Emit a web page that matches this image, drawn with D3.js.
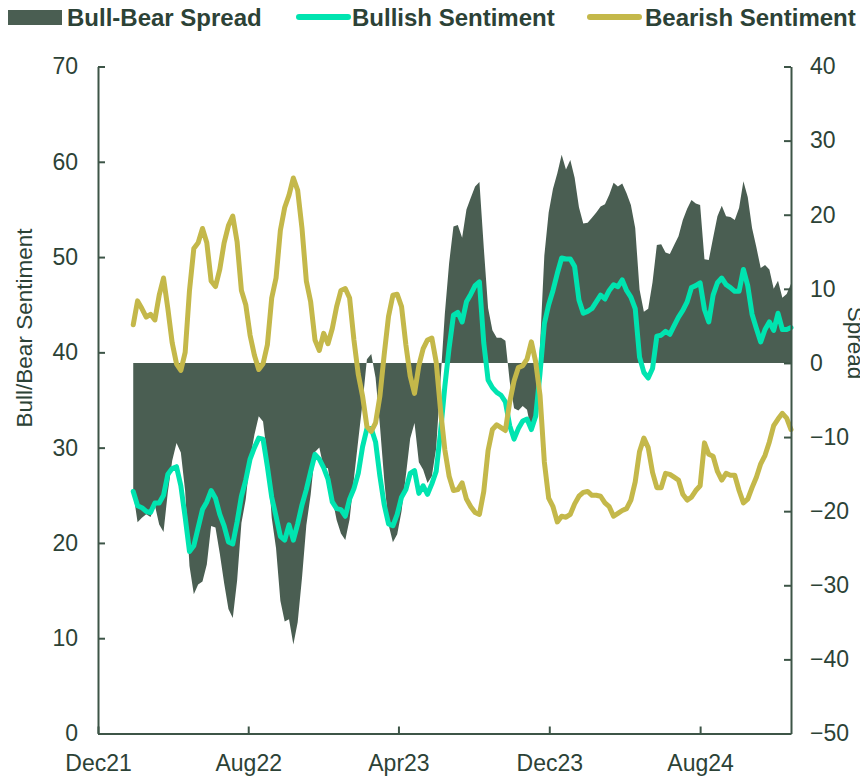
<!DOCTYPE html>
<html><head><meta charset="utf-8">
<script src="https://cdn.jsdelivr.net/npm/d3@7"></script>
<style>body{margin:0;background:#fff;} svg{display:block;font-family:"Liberation Sans",Arial,sans-serif;}</style>
</head><body><svg id="chart" width="860" height="779"></svg>
<script>
// ---- data ----
const firstWeek = "2022-01-27"; // weekly observations (Thursdays)
const xDomain = ["2021-12-01", "2024-12-26"];
const xTickDates = ["2021-12-01", "2022-08-01", "2023-04-01", "2023-12-01", "2024-08-01"];
const xTickLabels = ["Dec21", "Aug22", "Apr23", "Dec23", "Aug24"];
const leftTicks = [0, 10, 20, 30, 40, 50, 60, 70];
const rightTicks = [-50, -40, -30, -20, -10, 0, 10, 20, 30, 40];
const seriesNames = ["Bull-Bear Spread", "Bullish Sentiment", "Bearish Sentiment"];

const bullish = [25.4,23.9,23.7,23.3,23.2,24.2,24.2,25.0,27.2,27.8,28.0,26.0,22.7,19.1,19.7,21.6,23.5,24.3,25.5,24.7,
23.0,21.8,20.1,19.9,22.2,24.9,26.6,28.8,30.0,31.0,30.9,28.0,24.8,22.8,20.7,20.3,21.9,20.3,22.0,24.0,
25.6,27.5,29.3,28.8,27.9,26.7,24.3,23.6,23.5,22.8,24.6,25.7,27.3,30.1,32.0,32.0,30.6,27.0,24.0,22.0,
21.8,23.0,24.8,25.6,27.3,27.6,25.2,26.0,25.1,26.2,27.5,31.6,36.4,40.5,43.9,44.2,43.2,45.3,46.1,47.0,
47.4,41.0,37.1,36.3,35.8,35.5,34.8,32.3,30.9,32.0,32.8,33.0,31.9,33.3,37.8,43.0,45.0,46.5,48.3,49.9,
49.8,49.8,49.0,45.5,44.1,44.3,44.6,45.3,46.0,45.6,46.5,47.1,46.9,47.6,46.5,45.8,44.6,39.5,37.9,37.3,
38.3,41.7,41.8,42.2,41.9,42.8,43.7,44.4,45.3,46.8,47.0,47.3,44.5,43.2,46.0,47.3,47.8,47.1,46.8,46.4,
46.4,48.7,47.0,44.0,42.5,41.1,42.4,43.2,42.3,44.1,42.4,42.4,42.6];

const bearish = [42.9,45.4,44.6,43.7,44.0,43.4,46.0,47.8,44.6,41.0,38.8,38.1,40.0,46.5,50.9,51.5,53.0,51.5,47.5,46.9,
48.7,51.5,53.3,54.3,51.6,46.5,45.0,41.8,39.7,38.2,38.8,40.8,45.7,47.8,52.8,55.2,56.5,58.3,57.0,53.0,
47.5,45.3,41.3,40.2,42.0,40.9,42.5,44.8,46.5,46.7,45.7,41.3,37.7,35.4,32.2,31.7,32.6,35.4,39.8,43.8,
46.0,46.1,44.8,40.8,37.5,35.7,38.6,40.4,41.3,41.5,39.0,34.0,29.8,27.0,25.5,25.6,26.3,24.6,23.8,23.2,
23.0,25.4,29.7,31.9,32.4,32.1,31.8,34.8,37.0,38.4,38.6,39.3,41.1,39.0,35.5,28.5,24.7,23.8,22.2,22.8,
22.7,23.0,24.1,24.9,25.3,25.4,25.0,25.0,24.9,24.2,23.8,22.8,23.1,23.4,23.6,24.5,26.4,29.6,31.0,30.0,
27.4,25.8,25.8,27.3,27.2,26.9,26.6,25.1,24.5,24.8,25.5,26.0,30.5,29.3,29.1,27.5,26.6,27.3,27.1,27.1,
25.5,24.2,24.6,25.8,26.9,28.3,29.2,30.6,32.3,33.0,33.6,33.1,31.9];

const spread = [-17.5,-21.5,-20.9,-20.4,-20.8,-19.2,-21.8,-22.8,-17.4,-13.2,-10.8,-12.1,-17.3,-27.4,-31.2,-29.9,-29.5,-27.2,-22.0,-22.2,
-25.7,-29.7,-33.2,-34.4,-29.4,-21.6,-18.4,-13.0,-9.7,-7.2,-7.9,-12.8,-20.9,-25.0,-32.1,-34.9,-34.6,-38.0,-35.0,-29.0,
-21.9,-17.8,-12.0,-11.4,-14.1,-14.2,-18.2,-21.2,-23.0,-23.9,-21.1,-15.6,-10.4,-5.3,0.5,1.2,-2.0,-8.4,-15.8,-21.8,
-24.2,-23.1,-20.0,-15.2,-10.2,-8.1,-13.4,-14.4,-16.2,-15.3,-11.5,-2.4,6.6,13.5,18.4,18.6,16.9,20.7,22.3,23.8,
24.4,15.6,7.4,4.4,3.4,3.4,3.0,-2.5,-6.1,-6.4,-5.8,-6.3,-9.2,-5.7,2.3,14.5,20.3,23.5,25.6,28.1,
26.1,27.4,25.0,21.0,18.8,18.9,19.6,20.3,21.1,21.4,22.7,24.3,23.8,24.2,22.9,21.3,18.2,9.9,6.9,7.3,
10.9,15.9,16.0,14.9,14.7,15.9,17.1,19.3,20.8,22.0,21.5,21.3,14.0,13.9,16.9,19.8,21.2,19.8,19.7,19.3,
20.9,24.5,22.4,18.2,15.6,12.8,13.2,12.6,10.0,11.1,8.8,9.3,10.7];

// ---- styles ----
const colSpread = "#4a5e52", colBull = "#00e4b0", colBear = "#c4b84a";
const colText = "#2c4236", colAxis = "#3d5547";

const parse = d3.utcParse("%Y-%m-%d");
const t0 = parse(firstWeek);
const dates = bullish.map((_, i) => d3.utcDay.offset(t0, 7 * i));

const svg = d3.select("#chart");
const L = 98, R = 791, T = 66.5, B = 733.5;

const x = d3.scaleUtc().domain(xDomain.map(parse)).range([L, R]);
const yL = d3.scaleLinear().domain([0, 70]).range([B, T]);
const yR = d3.scaleLinear().domain([-50, 40]).range([B, T]);

// area
const area = d3.area().x((d, i) => x(dates[i])).y0(yR(0)).y1(d => yR(d));
svg.append("path").datum(spread).attr("d", area).attr("fill", colSpread);

const lineL = d3.line().x((d, i) => x(dates[i])).y(d => yL(d));
svg.append("path").datum(bullish).attr("d", lineL).attr("fill", "none")
  .attr("stroke", colBull).attr("stroke-width", 5).attr("stroke-linejoin", "round").attr("stroke-linecap", "round");
svg.append("path").datum(bearish).attr("d", lineL).attr("fill", "none")
  .attr("stroke", colBear).attr("stroke-width", 5).attr("stroke-linejoin", "round").attr("stroke-linecap", "round");

// axes
function styleAxis(g) {
  g.selectAll(".domain").attr("stroke", colAxis).attr("stroke-width", 2);
  g.selectAll(".tick line").attr("stroke", colAxis).attr("stroke-width", 2);
  g.selectAll(".tick text").attr("fill", colText).attr("font-size", 23);
  g.attr("font-family", null);
}
svg.append("g").attr("transform", `translate(${L},0)`)
  .call(d3.axisLeft(yL).tickValues(leftTicks).tickSizeInner(-7).tickSizeOuter(0).tickPadding(20))
  .call(styleAxis);
svg.append("g").attr("transform", `translate(${R},0)`)
  .call(d3.axisRight(yR).tickValues(rightTicks).tickSizeInner(-7).tickSizeOuter(0).tickPadding(19))
  .call(styleAxis);
svg.append("g").attr("transform", `translate(0,${B})`)
  .call(d3.axisBottom(x).tickValues(xTickDates.map(parse)).tickFormat((d, i) => xTickLabels[i])
        .tickSizeInner(-7).tickSizeOuter(0).tickPadding(21))
  .call(styleAxis);

// axis titles
svg.append("text").attr("transform", "translate(32,328) rotate(-90)").attr("text-anchor", "middle")
  .attr("fill", colText).attr("font-size", 22.5).text("Bull/Bear Sentiment");
svg.append("text").attr("transform", "translate(848,343) rotate(90)").attr("text-anchor", "middle")
  .attr("fill", colText).attr("font-size", 22.5).text("Spread");

// legend
const lg = svg.append("g").attr("font-weight", "bold").attr("font-size", 24).attr("fill", colText);
lg.append("rect").attr("x", 8).attr("y", 10).attr("width", 54).attr("height", 15).attr("fill", colSpread);
lg.append("text").attr("x", 67).attr("y", 25.5).text(seriesNames[0]);
lg.append("line").attr("x1", 299).attr("x2", 348).attr("y1", 17).attr("y2", 17)
  .attr("stroke", colBull).attr("stroke-width", 6).attr("stroke-linecap", "round");
lg.append("text").attr("x", 352).attr("y", 25.5).text(seriesNames[1]);
lg.append("line").attr("x1", 590).attr("x2", 639).attr("y1", 17).attr("y2", 17)
  .attr("stroke", colBear).attr("stroke-width", 6).attr("stroke-linecap", "round");
lg.append("text").attr("x", 645).attr("y", 25.5).text(seriesNames[2]);
</script></body></html>
